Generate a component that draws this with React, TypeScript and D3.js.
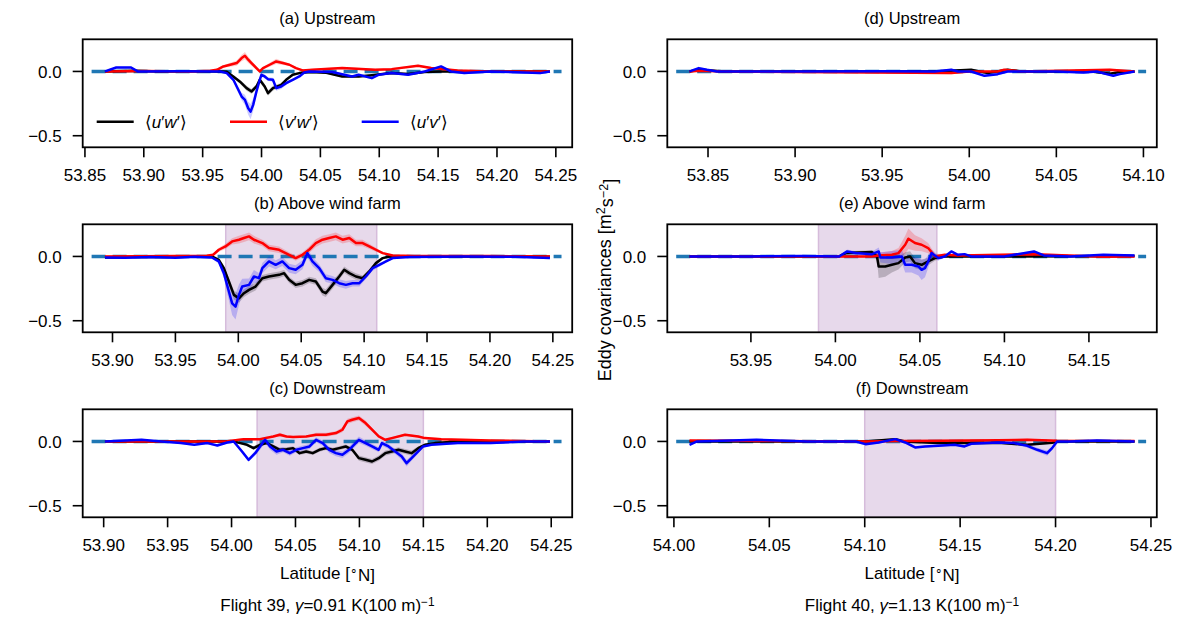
import React, { useEffect } from "react"
import * as d3 from "d3"

// [latitude, covariance, half-width of the shaded band (optional)]
type Pt = [number, number, number?]

// ---- Flight 39 ----
// (a) upstream
const uwA: Pt[] = [
  [53.867, 0], [53.890, 0.005], [53.915, 0], [53.942, 0.002], [53.965, 0], [53.9705, -0.003],
  [53.976, -0.039, 0.01], [53.9817, -0.08, 0.015], [53.9873, -0.13, 0.02], [53.9915, -0.156, 0.02],
  [53.9957, -0.117, 0.02], [53.9985, -0.065, 0.02], [54.0027, -0.117, 0.02], [54.0055, -0.169, 0.02],
  [54.0097, -0.13, 0.02], [54.0167, -0.104, 0.015], [54.0209, -0.065, 0.01], [54.0265, -0.026],
  [54.0321, -0.013], [54.0405, -0.005], [54.055, -0.01], [54.0685, -0.039], [54.0825, -0.04],
  [54.0937, -0.03], [54.1105, -0.013], [54.1245, -0.02], [54.1386, -0.005], [54.1525, 0],
  [54.20, 0], [54.245, 0],
]
const vwA: Pt[] = [
  [53.867, 0], [53.9, 0.003], [53.94, 0], [53.9565, 0.005], [53.9621, 0.013], [53.9676, 0.039],
  [53.9733, 0.052, 0.015], [53.9789, 0.065, 0.02], [53.9831, 0.104, 0.025], [53.9859, 0.122, 0.03],
  [53.9887, 0.091, 0.025], [53.9915, 0.065, 0.02], [53.9957, 0.026, 0.015], [53.9985, 0],
  [54.0013, 0.026], [54.0069, 0.052, 0.015], [54.0125, 0.078, 0.02], [54.0181, 0.065, 0.015],
  [54.0237, 0.052], [54.0293, 0.026], [54.0349, 0.008], [54.0433, 0.013], [54.0685, 0.026],
  [54.0965, 0.013], [54.1105, 0.018], [54.1329, 0.044], [54.1441, 0.026], [54.1665, 0.008],
  [54.1945, 0], [54.245, 0],
]
const uvA: Pt[] = [
  [53.867, 0], [53.8766, 0.031], [53.8892, 0.031], [53.8948, 0], [53.93, 0.002], [53.965, 0],
  [53.9705, -0.013], [53.9761, -0.065, 0.015], [53.9789, -0.117, 0.02], [53.9831, -0.195, 0.03],
  [53.9859, -0.221, 0.04], [53.9887, -0.286, 0.05], [53.9907, -0.3125, 0.06], [53.9929, -0.26, 0.05],
  [53.9957, -0.156, 0.03], [53.9985, -0.065, 0.02], [53.9999, -0.026, 0.015], [54.0027, -0.039, 0.015],
  [54.0055, -0.06, 0.015], [54.0097, -0.065, 0.015], [54.0125, -0.13, 0.02], [54.0167, -0.117, 0.02],
  [54.0209, -0.091, 0.015], [54.0265, -0.065], [54.0321, -0.039], [54.0363, -0.008], [54.0405, 0],
  [54.06, -0.005], [54.0769, -0.039], [54.0825, -0.026], [54.0937, -0.052], [54.0993, -0.026],
  [54.1105, -0.013], [54.1245, -0.026], [54.1386, 0], [54.1525, 0.039], [54.1609, 0],
  [54.1722, -0.013], [54.1945, 0], [54.2226, -0.008], [54.2366, -0.013], [54.245, 0],
]

// (b) above wind farm
const uwB: Pt[] = [
  [53.894, -0.008], [53.92, -0.003], [53.94, -0.005], [53.96, 0], [53.979, 0], [53.9845, -0.026],
  [53.9885, -0.091, 0.02], [53.9925, -0.195, 0.03], [53.9965, -0.299, 0.035], [54.0005, -0.326, 0.035],
  [54.0045, -0.286, 0.03], [54.0085, -0.26, 0.03], [54.0137, -0.234, 0.03], [54.0191, -0.169, 0.025],
  [54.0244, -0.156, 0.025], [54.0324, -0.143, 0.025], [54.0364, -0.13, 0.025], [54.0404, -0.182, 0.025],
  [54.0456, -0.221, 0.025], [54.051, -0.208, 0.025], [54.0563, -0.182, 0.025], [54.0616, -0.195, 0.025],
  [54.0669, -0.273, 0.03], [54.0695, -0.286, 0.03], [54.0749, -0.221, 0.03], [54.0802, -0.156, 0.025],
  [54.0842, -0.104, 0.025], [54.0882, -0.13, 0.025], [54.0935, -0.156, 0.025], [54.0988, -0.169, 0.02],
  [54.1041, -0.117, 0.02], [54.1094, -0.052, 0.015], [54.1148, -0.013], [54.1201, 0], [54.136, 0],
  [54.2, 0], [54.2477, -0.003],
]
const vwB: Pt[] = [
  [53.894, 0], [53.95, 0.003], [53.975, 0.005], [53.98, 0.013], [53.9845, 0.052, 0.015],
  [53.9898, 0.078, 0.02], [53.9951, 0.117, 0.025], [54.0005, 0.130, 0.03], [54.0045, 0.143, 0.03],
  [54.0085, 0.156, 0.03], [54.0124, 0.130, 0.03], [54.0191, 0.104, 0.025], [54.0244, 0.065, 0.025],
  [54.0324, 0.052, 0.025], [54.0404, 0.013, 0.02], [54.0456, -0.013, 0.02], [54.051, 0.013, 0.02],
  [54.0563, 0.052, 0.025], [54.0616, 0.104, 0.03], [54.0669, 0.130, 0.03], [54.0722, 0.143, 0.03],
  [54.0775, 0.156, 0.03], [54.0829, 0.130, 0.03], [54.0882, 0.143, 0.03], [54.0935, 0.104, 0.025],
  [54.0988, 0.104, 0.025], [54.1041, 0.078, 0.02], [54.1094, 0.052, 0.015], [54.1148, 0.026],
  [54.1227, 0.008], [54.14, 0.003], [54.2, 0.003], [54.2477, 0],
]
const uvB: Pt[] = [
  [53.894, -0.008], [53.91, -0.01], [53.93, -0.005], [53.95, -0.01], [53.965, -0.003], [53.979, -0.008],
  [53.9845, -0.039, 0.02], [53.9885, -0.13, 0.04], [53.9925, -0.273, 0.07], [53.9951, -0.365, 0.09],
  [53.9978, -0.391, 0.1], [54.0005, -0.299, 0.08], [54.0031, -0.234, 0.06], [54.0085, -0.221, 0.05],
  [54.0124, -0.156, 0.05], [54.0164, -0.169, 0.04], [54.0191, -0.091, 0.04], [54.0244, -0.039, 0.04],
  [54.0297, -0.065, 0.035], [54.035, -0.039, 0.035], [54.0404, -0.091, 0.035], [54.0456, -0.104, 0.035],
  [54.051, -0.065, 0.035], [54.0549, 0.026, 0.035], [54.0589, -0.039, 0.035], [54.0643, -0.091, 0.03],
  [54.0695, -0.169, 0.03], [54.0749, -0.182, 0.03], [54.0802, -0.208, 0.03], [54.0855, -0.221, 0.03],
  [54.0908, -0.208, 0.025], [54.0962, -0.208, 0.025], [54.1014, -0.156, 0.02], [54.1068, -0.091, 0.02],
  [54.1121, -0.065, 0.015], [54.1174, -0.039], [54.1227, -0.013], [54.136, -0.005], [54.18, 0],
  [54.22, -0.003], [54.2477, -0.013],
]

// (c) downstream
const uwC: Pt[] = [
  [53.901, 0], [53.95, 0], [53.99, 0], [54.0017, 0], [54.0069, -0.013], [54.0121, -0.026],
  [54.0172, -0.052, 0.015], [54.0223, -0.026, 0.015], [54.0275, -0.013], [54.0326, -0.039, 0.015],
  [54.0378, -0.065, 0.015], [54.043, -0.060, 0.015], [54.0481, -0.052, 0.015], [54.0532, -0.091, 0.015],
  [54.0584, -0.078, 0.015], [54.0635, -0.091, 0.015], [54.0687, -0.065, 0.015], [54.0739, -0.052, 0.015],
  [54.079, -0.065, 0.015], [54.0842, -0.052, 0.015], [54.0893, -0.039, 0.015], [54.0944, -0.065, 0.015],
  [54.0996, -0.130, 0.02], [54.1048, -0.143, 0.02], [54.1099, -0.156, 0.02], [54.1151, -0.130, 0.02],
  [54.1202, -0.091, 0.02], [54.1253, -0.078, 0.02], [54.1305, -0.065, 0.02], [54.1357, -0.078, 0.02],
  [54.1408, -0.091, 0.02], [54.146, -0.052, 0.015], [54.1512, -0.026], [54.1589, -0.013],
  [54.1769, 0], [54.249, 0],
]
const vwC: Pt[] = [
  [53.901, 0], [53.97, 0], [53.9966, 0.002], [54.0094, 0.018], [54.0223, 0.018], [54.0326, 0.039],
  [54.0378, 0.052, 0.015], [54.043, 0.039], [54.0481, 0.034], [54.0584, 0.039], [54.0661, 0.052, 0.015],
  [54.0739, 0.052, 0.015], [54.0816, 0.065, 0.015], [54.0867, 0.091, 0.02], [54.0906, 0.156, 0.02],
  [54.0944, 0.169, 0.02], [54.0996, 0.182, 0.02], [54.1048, 0.143, 0.02], [54.1099, 0.091, 0.015],
  [54.1151, 0.039], [54.1202, 0.013], [54.1253, 0.026], [54.1357, 0.052], [54.146, 0.039],
  [54.1512, 0.026], [54.164, 0.018], [54.2026, 0.008], [54.249, 0],
]
const uvC: Pt[] = [
  [53.901, 0], [53.9296, 0.013], [53.9451, 0], [53.9605, -0.013], [53.9708, -0.026], [53.9811, -0.013],
  [53.9889, -0.031], [53.9966, -0.008], [54.0017, 0], [54.0082, -0.078, 0.015], [54.0133, -0.143, 0.015],
  [54.0185, -0.091, 0.02], [54.0223, -0.039, 0.025], [54.0262, 0.013, 0.025], [54.0301, -0.039, 0.025],
  [54.0352, -0.078, 0.025], [54.0403, -0.065, 0.02], [54.0455, -0.091, 0.02], [54.0507, -0.065, 0.02],
  [54.0558, -0.052, 0.02], [54.061, -0.039, 0.02], [54.0661, 0.013, 0.02], [54.0713, -0.013, 0.02],
  [54.0764, -0.065, 0.025], [54.0816, -0.091, 0.025], [54.0867, -0.104, 0.025], [54.0919, -0.065, 0.025],
  [54.0957, -0.026, 0.025], [54.0996, 0.013, 0.025], [54.1048, -0.013, 0.02], [54.1099, -0.039, 0.02],
  [54.1151, -0.065, 0.02], [54.1176, -0.013, 0.02], [54.1228, -0.039, 0.02], [54.128, -0.078, 0.02],
  [54.1331, -0.117, 0.025], [54.1369, -0.169, 0.025], [54.1408, -0.130, 0.02], [54.146, -0.078, 0.015],
  [54.1498, -0.039], [54.1563, -0.026], [54.1769, -0.013], [54.2026, -0.013], [54.2284, 0], [54.249, 0],
]

// ---- Flight 40 ----
// (d) upstream
const uwD: Pt[] = [
  [53.8394, 0], [53.8447, 0.013], [53.86, 0], [53.98, 0], [54.0011, 0.013], [54.0106, -0.013],
  [54.022, 0.013], [54.03, 0], [54.07, 0], [54.0807, -0.018], [54.0864, -0.005], [54.0949, 0],
]
const vwD: Pt[] = [
  [53.8394, 0], [53.845, 0.005], [53.86, 0], [53.9897, -0.013], [54.00, 0], [54.0163, 0],
  [54.0201, 0.013], [54.03, 0], [54.0807, 0.013], [54.0949, 0],
]
const uvD: Pt[] = [
  [53.8394, 0], [53.8447, 0.026], [53.8494, 0.013], [53.8551, 0], [53.90, 0], [53.95, 0.002],
  [53.98, 0], [53.9897, 0.013], [53.9935, 0], [54.0011, 0], [54.0087, -0.034], [54.0163, -0.021],
  [54.022, 0], [54.05, 0], [54.0656, -0.008], [54.0732, 0], [54.0788, -0.021], [54.0827, -0.034],
  [54.0864, -0.021], [54.0949, 0],
]

// (e) above wind farm
const uwE: Pt[] = [
  [53.9137, 0], [54.0022, 0], [54.0061, 0.026, 0.015], [54.0217, 0.034, 0.015], [54.0246, 0, 0.03],
  [54.0256, -0.078, 0.09], [54.0295, -0.078, 0.08], [54.0334, -0.065, 0.06], [54.0373, -0.052, 0.05],
  [54.0413, -0.008, 0.04], [54.0442, 0, 0.04], [54.0471, -0.052, 0.04], [54.051, -0.065, 0.04],
  [54.0549, -0.039, 0.03], [54.0589, -0.013, 0.02], [54.0647, 0], [54.1, 0], [54.177, 0.003],
]
const vwE: Pt[] = [
  [53.9137, 0], [54.0217, 0], [54.0256, 0.008, 0.02], [54.0334, 0.013, 0.03], [54.0373, 0.026, 0.04],
  [54.0413, 0.091, 0.07], [54.0432, 0.138, 0.08], [54.0471, 0.104, 0.06], [54.051, 0.091, 0.05],
  [54.0549, 0.065, 0.04], [54.0589, 0, 0.02], [54.0647, 0.013], [54.0725, 0.008], [54.1175, 0.018],
  [54.1585, -0.003], [54.177, 0],
]
const uvE: Pt[] = [
  [53.9137, 0], [53.95, 0], [53.98, 0.003], [54.0022, 0], [54.007, 0.039, 0.015], [54.012, 0.026, 0.015],
  [54.0217, 0.018, 0.02], [54.0256, 0.039, 0.03], [54.0266, -0.008, 0.04], [54.0334, -0.008, 0.05],
  [54.0393, 0, 0.05], [54.0413, -0.065, 0.06], [54.0451, -0.065, 0.06], [54.0491, -0.078, 0.07],
  [54.051, -0.104, 0.08], [54.053, -0.091, 0.07], [54.0549, -0.039, 0.05], [54.0569, 0.026, 0.03],
  [54.0608, -0.013, 0.02], [54.0647, 0], [54.0686, 0.039], [54.0725, 0.013], [54.0764, 0.018],
  [54.0803, 0], [54.0999, 0], [54.1175, 0.039], [54.1233, 0.008], [54.1389, 0], [54.1585, 0.013],
  [54.177, 0.008],
]

// (f) downstream
const uwF: Pt[] = [
  [54.0082, 0], [54.10, 0], [54.116, 0.018], [54.1212, 0], [54.1385, -0.013], [54.17, -0.01],
  [54.1852, -0.026], [54.1982, -0.01], [54.2008, 0], [54.2414, 0],
]
const vwF: Pt[] = [
  [54.0082, 0.008], [54.05, 0.003], [54.10, 0], [54.12, 0.003], [54.14, 0.005], [54.17, 0.01],
  [54.1852, 0.013], [54.2008, 0.005], [54.2414, 0.003],
]
const uvF: Pt[] = [
  [54.0082, -0.026], [54.0121, 0], [54.0433, 0.013], [54.07, 0], [54.0952, 0], [54.1004, -0.021],
  [54.1073, -0.008], [54.116, 0.018], [54.1212, -0.008], [54.1264, -0.047], [54.1316, -0.039],
  [54.1385, -0.034], [54.1471, -0.026], [54.1523, -0.039], [54.1558, -0.018], [54.1696, -0.008],
  [54.1783, -0.013], [54.1852, -0.034, 0.015], [54.1904, -0.065, 0.015], [54.1956, -0.091, 0.02],
  [54.1982, -0.052, 0.015], [54.2008, 0], [54.2077, 0], [54.2215, 0.008], [54.2414, 0],
]

// wind farm latitude spans
const farmB = [53.99, 54.11]
const farmC = [54.02, 54.15]
const farmE = [53.99, 54.06]
const farmF = [54.10, 54.20]

// tick labels
const ticksA = [53.85, 53.90, 53.95, 54.00, 54.05, 54.10, 54.15, 54.20, 54.25]
const ticksBC = [53.90, 53.95, 54.00, 54.05, 54.10, 54.15, 54.20, 54.25]
const ticksD = [53.85, 53.90, 53.95, 54.00, 54.05, 54.10]
const ticksE = [53.95, 54.00, 54.05, 54.10, 54.15]
const ticksF = [54.00, 54.05, 54.10, 54.15, 54.20, 54.25]
const yTicks = [0, -0.5]

const titles = ["(a) Upstream", "(b) Above wind farm", "(c) Downstream",
  "(d) Upstream", "(e) Above wind farm", "(f) Downstream"]
const flights = ["39", "40"]
const gammas = ["0.91", "1.13"]

const panels = [
  { uw: uwA, vw: vwA, uv: uvA, farm: null, ticks: ticksA },
  { uw: uwB, vw: vwB, uv: uvB, farm: farmB, ticks: ticksBC },
  { uw: uwC, vw: vwC, uv: uvC, farm: farmC, ticks: ticksBC },
  { uw: uwD, vw: vwD, uv: uvD, farm: null, ticks: ticksD },
  { uw: uwE, vw: vwE, uv: uvE, farm: farmE, ticks: ticksE },
  { uw: uwF, vw: vwF, uv: uvF, farm: farmF, ticks: ticksF },
]

const W = 1185
const H = 624
const COL_X = [82.7, 667.3]
const ROW_Y = [39.3, 224.3, 409.3]
const PW = 489.5
const PH = 108
const FONT = "'Liberation Sans', Arial, sans-serif"
const FS = 17
const COLORS = { uw: "#000000", vw: "#ff0000", uv: "#0000ff" }

const fmt = d3.format(".2f")
const yFmt = (v: number) => (v < 0 ? "\u2212" : "") + Math.abs(v).toFixed(1)

function Panel({ idx }: { idx: number }) {
  const p = panels[idx]
  const col = Math.floor(idx / 3)
  const row = idx % 3
  const ox = COL_X[col]
  const oy = ROW_Y[row]

  // x limits: data extent plus 5% margins, like matplotlib
  const lats = [...p.uw, ...p.vw, ...p.uv].map(d => d[0])
  const [lo, hi] = d3.extent(lats) as [number, number]
  const r = hi - lo
  const x = d3.scaleLinear().domain([lo - 0.05 * r, hi + 0.05 * r]).range([0, PW])
  const y = d3.scaleLinear().domain([-0.59, 0.25]).range([PH, 0])

  const line = d3.line<Pt>().x(d => x(d[0])).y(d => y(d[1]))
  const band = d3.area<Pt>()
    .x(d => x(d[0]))
    .y0(d => y(d[1] - (d[2] ?? 0.008)))
    .y1(d => y(d[1] + (d[2] ?? 0.008)))

  const series: [Pt[], string][] = [[p.uw, COLORS.uw], [p.vw, COLORS.vw], [p.uv, COLORS.uv]]
  const clipId = "clip" + idx

  return (
    <g transform={`translate(${ox},${oy})`}>
      <defs>
        <clipPath id={clipId}><rect x={0} y={0} width={PW} height={PH} /></clipPath>
      </defs>
      <g clipPath={`url(#${clipId})`}>
        {p.farm && (
          <rect x={x(p.farm[0])} y={0} width={x(p.farm[1]) - x(p.farm[0])} height={PH}
            fill="#e7d9eb" stroke="#d6bcdb" strokeWidth={1.5} />
        )}
        <line x1={x(lo - 0.03 * r)} x2={x(hi + 0.026 * r)} y1={y(0)} y2={y(0)}
          stroke="#1f77b4" strokeWidth={3.5} strokeDasharray="14,7" />
        {series.map(([s, c], i) => (
          <path key={"b" + i} d={band(s) || ""} fill={c} fillOpacity={0.2} stroke="none" />
        ))}
        {series.map(([s, c], i) => (
          <path key={"l" + i} d={line(s) || ""} fill="none" stroke={c} strokeWidth={2.5}
            strokeLinejoin="round" />
        ))}
      </g>
      <rect x={0} y={0} width={PW} height={PH} fill="none" stroke="#000" strokeWidth={1.8} />
      {p.ticks.map(t => (
        <g key={t} transform={`translate(${x(t)},${PH})`}>
          <line y1={0} y2={10} stroke="#000" strokeWidth={1.6} />
          <text y={33.4} textAnchor="middle" fontFamily={FONT} fontSize={FS}>{fmt(t)}</text>
        </g>
      ))}
      {yTicks.map(t => (
        <g key={t} transform={`translate(0,${y(t)})`}>
          <line x1={-10} x2={0} stroke="#000" strokeWidth={1.6} />
          <text x={-21} dy="0.36em" textAnchor="end" fontFamily={FONT} fontSize={FS}>{yFmt(t)}</text>
        </g>
      ))}
      <text x={PW / 2} y={-15.3} textAnchor="middle" fontFamily={FONT} fontSize={FS - 0.5}>
        {titles[idx]}
      </text>
    </g>
  )
}

function Legend() {
  const items = [
    { c: COLORS.uw, a: "u", b: "w", x0: 96.7 },
    { c: COLORS.vw, a: "v", b: "w", x0: 230 },
    { c: COLORS.uv, a: "u", b: "v", x0: 361.7 },
  ]
  const ly = 121.7
  return (
    <g>
      {items.map((it, i) => (
        <g key={i}>
          <line x1={it.x0} x2={it.x0 + 37} y1={ly} y2={ly} stroke={it.c} strokeWidth={2.5} />
          <text x={it.x0 + 48} y={ly + 6} fontFamily={FONT} fontSize={FS}>
            {"\u27E8"}<tspan fontStyle="italic">{it.a}</tspan>{"\u2032"}
            <tspan fontStyle="italic">{it.b}</tspan>{"\u2032\u27E9"}
          </text>
        </g>
      ))}
    </g>
  )
}

export default function App() {
  useEffect(() => {
    document.body.style.margin = "0"
  }, [])

  const colCenters = COL_X.map(c => c + PW / 2)
  const LS = 18

  return (
    <svg width={W} height={H} style={{ display: "block", background: "#fff" }}>
      {panels.map((_, i) => <Panel key={i} idx={i} />)}
      <Legend />
      <text transform="translate(611,280) rotate(-90)" textAnchor="middle" fontFamily={FONT} fontSize={LS}>
        Eddy covariances [m<tspan dy="-0.45em" fontSize={LS * 0.7}>2</tspan>
        <tspan dy="0.45em">s</tspan><tspan dy="-0.45em" fontSize={LS * 0.7}>{"\u22122"}</tspan>
        <tspan dy="0.45em">]</tspan>
      </text>
      {colCenters.map((cx, i) => (
        <g key={i}>
          <text x={cx} y={579} textAnchor="middle" fontFamily={FONT} fontSize={FS}>
            Latitude [<tspan dy="-0.35em" fontSize={FS * 0.7}>{"\u2218"}</tspan><tspan dy="0.35em">N]</tspan>
          </text>
          <text x={cx} y={611} textAnchor="middle" fontFamily={FONT} fontSize={FS}>
            {`Flight ${flights[i]}, `}<tspan fontStyle="italic">{"\u03B3"}</tspan>{`=${gammas[i]} K(100 m)`}
            <tspan dy="-0.45em" fontSize={FS * 0.7}>{"\u22121"}</tspan>
          </text>
        </g>
      ))}
    </svg>
  )
}
